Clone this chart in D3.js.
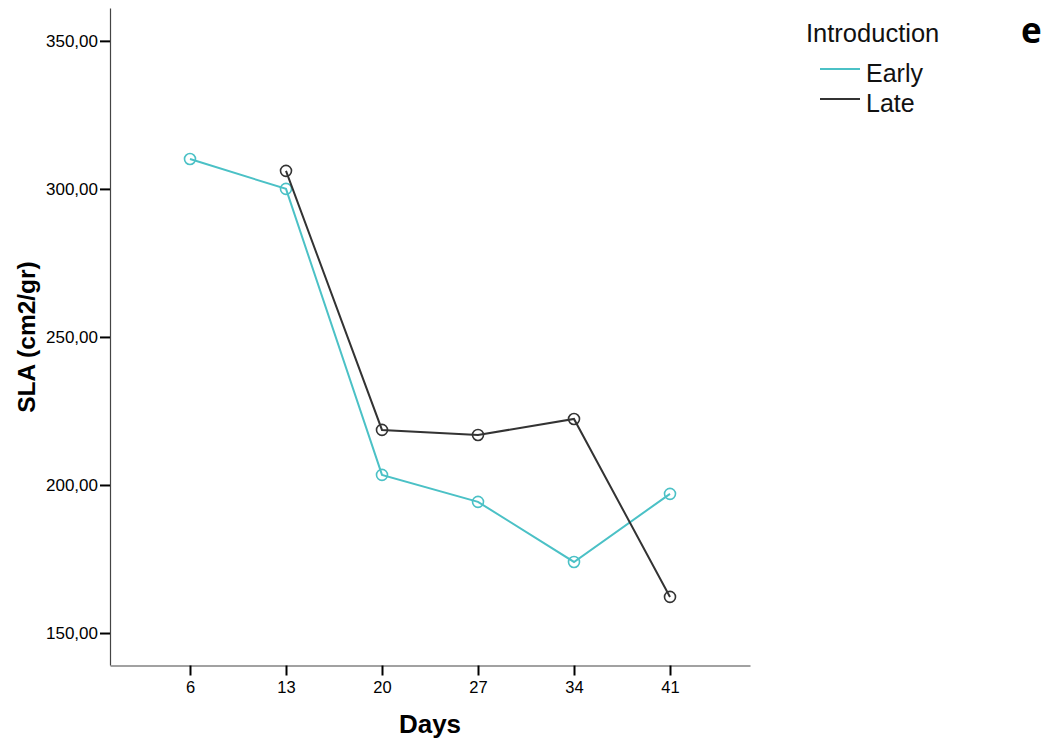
<!DOCTYPE html>
<html>
<head>
<meta charset="utf-8">
<script src="https://cdn.jsdelivr.net/npm/d3@7"></script>
<style>
  body { margin: 0; background: #fff; }
  svg text { font-family: "Liberation Sans", Arial, sans-serif; }
</style>
</head>
<body>
<svg width="1048" height="743"></svg>
<script>
const days = ["6", "13", "20", "27", "34", "41"];
const earlyValues = [310.1, 300.0, 203.4, 194.3, 174.0, 197.0];
const lateDays = ["13", "20", "27", "34", "41"];
const lateValues = [306.1, 218.6, 216.9, 222.3, 162.2];
const yTicks = [150, 200, 250, 300, 350];

const svg = d3.select("svg");

const x = d3.scalePoint()
    .domain(days)
    .range([110, 750])
    .padding(0.8333);

const y = d3.scaleLinear()
    .domain([139.2, 361.1])
    .range([665, 8]);

const fmt = d => d3.format(".2f")(d).replace(".", ",");

// y axis
const yAxis = svg.append("g")
    .attr("transform", "translate(110,0)")
    .call(d3.axisLeft(y).tickValues(yTicks).tickFormat(fmt).tickSize(10).tickSizeOuter(0).tickPadding(2));
yAxis.select(".domain").attr("stroke", "#444").attr("stroke-width", 1.2);
yAxis.selectAll(".tick line").attr("stroke", "#000").attr("stroke-width", 2);
yAxis.selectAll("text").attr("font-size", 17).attr("fill", "#000");

// x axis
const xAxis = svg.append("g")
    .attr("transform", "translate(0,665.5)")
    .call(d3.axisBottom(x).tickSize(10).tickSizeOuter(0).tickPadding(6));
xAxis.select(".domain").attr("stroke", "#444").attr("stroke-width", 1.2);
xAxis.selectAll(".tick line").attr("stroke", "#000").attr("stroke-width", 2);
xAxis.selectAll("text").attr("font-size", 16.5).attr("fill", "#000");

// axis titles
svg.append("text")
    .attr("x", 430).attr("y", 733)
    .attr("text-anchor", "middle")
    .attr("font-size", 26).attr("font-weight", "bold")
    .text("Days");

svg.append("text")
    .attr("transform", "translate(35,337) rotate(-90)")
    .attr("text-anchor", "middle")
    .attr("font-size", 24.5).attr("font-weight", "bold")
    .text("SLA (cm2/gr)");

const series = [
    { name: "Early", color: "#4bc1c6", days: days, values: earlyValues },
    { name: "Late", color: "#333333", days: lateDays, values: lateValues }
];

const line = d3.line()
    .x(d => x(d[0]))
    .y(d => y(d[1]));

series.forEach(s => {
    const pts = s.days.map((d, i) => [d, s.values[i]]);
    svg.append("path")
        .datum(pts)
        .attr("fill", "none")
        .attr("stroke", s.color)
        .attr("stroke-width", 2)
        .attr("d", line);
    svg.append("g")
        .selectAll("circle")
        .data(pts)
        .join("circle")
        .attr("cx", d => x(d[0]))
        .attr("cy", d => y(d[1]))
        .attr("r", 5.5)
        .attr("fill", "none")
        .attr("stroke", s.color)
        .attr("stroke-width", 1.6);
});

// legend
svg.append("text")
    .attr("x", 806).attr("y", 42)
    .attr("font-size", 25.5)
    .attr("fill", "#111")
    .text("Introduction");

const legend = svg.append("g")
    .selectAll("g")
    .data(series)
    .join("g")
    .attr("transform", (d, i) => `translate(820,${69 + i * 30})`);
legend.append("line")
    .attr("x1", 0).attr("x2", 40)
    .attr("stroke", d => d.color)
    .attr("stroke-width", 2);
legend.append("text")
    .attr("x", 46).attr("y", 12.5)
    .attr("font-size", 25)
    .attr("fill", "#111")
    .text(d => d.name);

svg.append("text")
    .attr("x", 1021).attr("y", 43)
    .attr("font-size", 35).attr("font-weight", "bold")
    .style("font-family", "'Open Sans', 'DejaVu Sans', sans-serif")
    .text("e");
</script>
</body>
</html>
